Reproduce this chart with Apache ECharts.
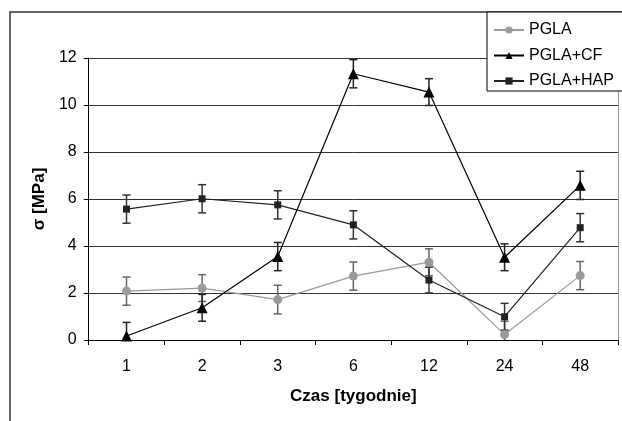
<!DOCTYPE html>
<html>
<head>
<meta charset="utf-8">
<script src="https://cdn.jsdelivr.net/npm/echarts@6/dist/echarts.min.js"></script>
<style>
  html, body { margin: 0; padding: 0; background: #fff; }
  #chart { width: 622px; height: 421px; }
</style>
</head>
<body>
<div id="chart"></div>
<script>
// Time points (weeks)
var categories = ['1', '2', '3', '6', '12', '24', '48'];

// Mean strength [MPa] and standard deviations per material
var pgla = [2.08, 2.21, 1.72, 2.72, 3.31, 0.23, 2.74];
var pglaErr = [0.6, 0.57, 0.61, 0.6, 0.57, 0.57, 0.6];

var pglaCf = [0.17, 1.37, 3.55, 11.33, 10.55, 3.52, 6.58];
var pglaCfErr = [0.58, 0.57, 0.6, 0.6, 0.57, 0.57, 0.6];

var pglaHap = [5.57, 6.01, 5.75, 4.9, 2.55, 0.99, 4.78];
var pglaHapErr = [0.6, 0.6, 0.6, 0.6, 0.55, 0.57, 0.6];

var FONT = 'Liberation Sans, Arial, sans-serif';

function errorData(values, errs) {
  return values.map(function (v, i) { return [i, v - errs[i], v + errs[i]]; });
}

function errorSeries(name, values, errs, color) {
  return {
    type: 'custom',
    name: name + ' err',
    clip: true,
    z: 1,
    silent: true,
    data: errorData(values, errs),
    renderItem: function (params, api) {
      var i = api.value(0);
      var lo = api.coord([i, api.value(1)]);
      var hi = api.coord([i, api.value(2)]);
      var w = 4;
      var style = { stroke: color, lineWidth: 1.5, fill: null };
      return {
        type: 'group',
        children: [
          { type: 'line', shape: { x1: hi[0], y1: hi[1], x2: lo[0], y2: lo[1] }, style: style },
          { type: 'line', shape: { x1: hi[0] - w, y1: hi[1], x2: hi[0] + w, y2: hi[1] }, style: style },
          { type: 'line', shape: { x1: lo[0] - w, y1: lo[1], x2: lo[0] + w, y2: lo[1] }, style: style }
        ]
      };
    }
  };
}

var chart = echarts.init(document.getElementById('chart'), null, { renderer: 'canvas' });

chart.setOption({
  backgroundColor: '#fff',
  animation: false,
  grid: { left: 88.7, right: 4, top: 58, bottom: 81 },
  graphic: [
    {
      type: 'rect',
      shape: { x: 10, y: 12, width: 700, height: 500 },
      style: { fill: null, stroke: '#333', lineWidth: 1.5 },
      z: -1
    }
  ],
  legend: {
    orient: 'vertical',
    left: 487,
    top: 12,
    padding: [10, 30, 2, 6],
    itemWidth: 30,
    itemHeight: 9,
    itemGap: 9.5,
    borderColor: '#000',
    borderWidth: 1,
    backgroundColor: '#fff',
    data: ['PGLA', 'PGLA+CF', 'PGLA+HAP'],
    textStyle: { fontFamily: FONT, fontSize: 16, color: '#000', lineHeight: 16 },
    z: 10
  },
  xAxis: {
    type: 'category',
    data: categories,
    boundaryGap: true,
    name: 'Czas [tygodnie]',
    nameLocation: 'middle',
    nameGap: 48,
    nameTextStyle: { fontFamily: FONT, fontSize: 17, fontWeight: 'bold', color: '#000' },
    axisLine: { lineStyle: { color: '#000', width: 1 } },
    axisTick: { show: true, length: 5, lineStyle: { color: '#000' } },
    axisLabel: { fontFamily: FONT, fontSize: 16, color: '#000', margin: 19 },
    splitLine: { show: false }
  },
  yAxis: [
    {
      type: 'value',
      min: 0,
      max: 12,
      interval: 2,
      name: 'σ [MPa]',
      nameLocation: 'middle',
      nameGap: 38,
      nameTextStyle: { fontFamily: FONT, fontSize: 17, fontWeight: 'bold', color: '#000' },
      axisLine: { show: true, lineStyle: { color: '#000', width: 1 } },
      axisTick: { show: true, length: 5, lineStyle: { color: '#000' } },
      axisLabel: { fontFamily: FONT, fontSize: 16, color: '#000', margin: 12 },
      splitLine: { show: true, lineStyle: { color: '#333', width: 1 } }
    },
    {
      type: 'value',
      min: 0,
      max: 12,
      interval: 2,
      position: 'right',
      axisLine: { show: true, lineStyle: { color: '#999', width: 1 } },
      axisTick: { show: false },
      axisLabel: { show: false },
      splitLine: { show: false }
    }
  ],
  series: [
    errorSeries('PGLA', pgla, pglaErr, '#666'),
    errorSeries('PGLA+CF', pglaCf, pglaCfErr, '#222'),
    errorSeries('PGLA+HAP', pglaHap, pglaHapErr, '#333'),
    {
      name: 'PGLA',
      type: 'line',
      data: pgla,
      z: 3,
      symbol: 'circle',
      symbolSize: 9,
      lineStyle: { color: '#9a9a9a', width: 1.2 },
      itemStyle: { color: '#9a9a9a' }
    },
    {
      name: 'PGLA+CF',
      type: 'line',
      data: pglaCf,
      z: 4,
      symbol: 'triangle',
      symbolSize: 11,
      lineStyle: { color: '#000', width: 1.2 },
      itemStyle: { color: '#000' }
    },
    {
      name: 'PGLA+HAP',
      type: 'line',
      data: pglaHap,
      z: 4,
      symbol: 'rect',
      symbolSize: 7,
      lineStyle: { color: '#222', width: 1.2 },
      itemStyle: { color: '#222' }
    }
  ]
});
</script>
</body>
</html>
